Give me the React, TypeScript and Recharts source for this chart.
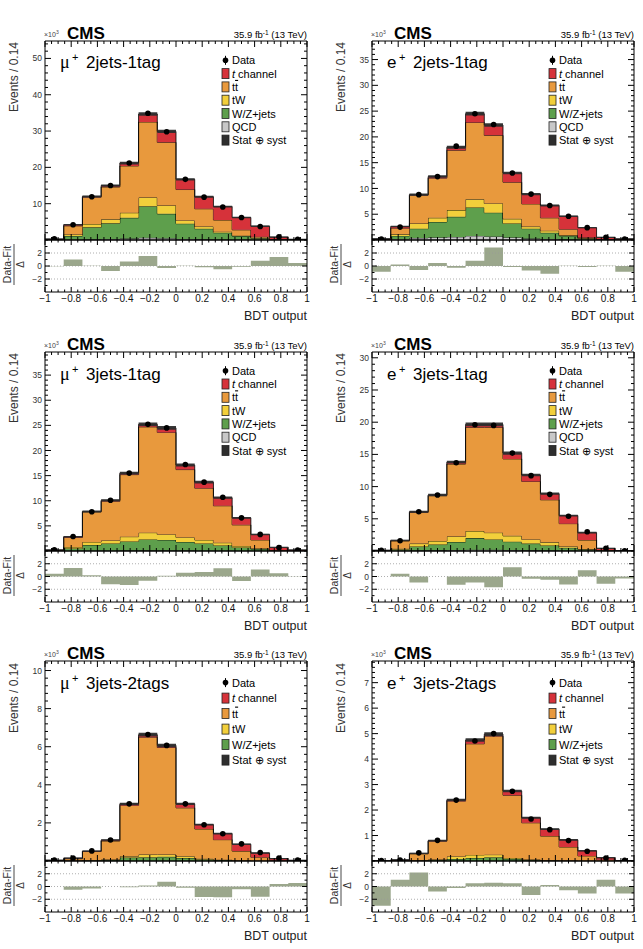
import React from 'react';
import { ComposedChart, Area, Scatter, XAxis, YAxis, ReferenceLine } from 'recharts';

const FONT = '"Liberation Sans", Arial, Helvetica, sans-serif';
const SERIF = '"Liberation Serif", "DejaVu Serif", serif';

// BDT output binning: 14 bins over [-1, 1]
const BIN_EDGES = Array.from({ length: 15 }, (_, i) => -1 + (i * 2) / 14);
const X_TICKS = [-1, -0.8, -0.6, -0.4, -0.2, 0, 0.2, 0.4, 0.6, 0.8, 1];
const X_MINOR = Array.from({ length: 41 }, (_, i) => Math.round((-1 + i * 0.05) * 100) / 100);
const PULL_TICKS = [-2, 0, 2];
const PULL_MINOR = [-3, -1, 1, 3];
const UNC_REL = 0.01;

const C_TCH = '#d6323a';
const C_TT = '#e8993d';
const C_TW = '#f2cf3b';
const C_WZ = '#5e9f4c';
const C_QCD = '#c8c8c8';
const C_UNC = '#2e2e2e';
const C_PULL = '#9ba78c';

// ---- mu+ 2jets-1tag (events x 10^3) ----
const MU_2J1T_DATA = [0.3, 4.2, 11.9, 15.0, 21.2, 34.9, 29.8, 16.7, 11.8, 9.1, 6.2, 3.7, 0.9, 0.2];
const MU_2J1T_QCD = [0.02, 0.1, 0.2, 0.3, 0.4, 0.6, 0.5, 0.3, 0.2, 0.1, 0.05, 0.02, 0.01, 0];
const MU_2J1T_WZ = [0.03, 1.0, 3.3, 4.3, 5.7, 8.7, 6.7, 4.2, 2.9, 1.9, 1.05, 0.48, 0.09, 0.03];
const MU_2J1T_TW = [0.02, 0.4, 0.9, 1.1, 1.4, 2.4, 2.3, 0.9, 0.6, 0.3, 0.1, 0.1, 0.02, 0.01];
const MU_2J1T_TT = [0.08, 2.4, 7.4, 8.9, 12.9, 20.8, 17.4, 8.5, 4.9, 3.2, 1.6, 0.3, 0.08, 0.02];
const MU_2J1T_TCH = [0.1, 0.3, 0.2, 0.4, 0.8, 2.2, 3.0, 2.8, 3.3, 3.7, 3.4, 2.9, 0.6, 0.09];
const MU_2J1T_PULL = [-0.05, 1.0, 0.05, -0.75, 0.7, 1.55, -0.3, 0.05, -0.2, -0.5, -0.1, 0.8, 1.4, 0.45];
const MU_2J1T_YTICKS = [10, 20, 30, 40, 50];

// ---- e+ 2jets-1tag ----
const E_2J1T_DATA = [0.2, 2.5, 8.8, 12.3, 18.2, 24.5, 22.4, 13.0, 8.9, 6.7, 4.6, 2.4, 0.5, 0.2];
const E_2J1T_QCD = [0.05, 0.2, 0.4, 0.5, 0.6, 0.8, 0.7, 0.5, 0.3, 0.2, 0.1, 0.05, 0.02, 0.01];
const E_2J1T_WZ = [0.05, 0.6, 1.8, 3.0, 3.9, 5.5, 4.6, 2.7, 1.9, 1.2, 0.7, 0.25, 0.06, 0.02];
const E_2J1T_TW = [0.02, 0.3, 1.0, 0.8, 1.3, 1.6, 1.8, 0.9, 0.4, 0.4, 0.1, 0.05, 0.02, 0.01];
const E_2J1T_TT = [0.03, 1.2, 5.5, 7.7, 11.6, 14.9, 13.2, 7.1, 4.4, 2.5, 1.2, 0.15, 0.05, 0.02];
const E_2J1T_TCH = [0.05, 0.3, 0.1, 0.3, 0.6, 1.7, 2.0, 1.8, 1.9, 2.4, 2.5, 1.9, 0.35, 0.14];
const E_2J1T_PULL = [-0.9, 0.25, -0.6, 0.45, -0.25, 0.8, 2.85, -0.15, -0.7, -1.2, 0.05, -0.15, 0.05, -0.9];
const E_2J1T_YTICKS = [5, 10, 15, 20, 25, 30, 35];

// ---- mu+ 3jets-1tag ----
const MU_3J1T_DATA = [0.25, 2.9, 7.8, 10.1, 15.5, 25.2, 24.5, 17.2, 13.7, 10.7, 6.6, 3.3, 0.7, 0.2];
const MU_3J1T_QCD = [0, 0.02, 0.05, 0.05, 0.08, 0.1, 0.1, 0.08, 0.05, 0.04, 0.02, 0.01, 0, 0];
const MU_3J1T_WZ = [0.05, 0.48, 1.15, 1.45, 1.82, 2.2, 2.1, 1.72, 1.45, 1.06, 0.68, 0.39, 0.1, 0.03];
const MU_3J1T_TW = [0.01, 0.3, 0.6, 0.6, 0.95, 1.35, 1.1, 0.9, 0.7, 0.55, 0.3, 0.1, 0.02, 0.01];
const MU_3J1T_TT = [0.09, 1.9, 6.0, 7.8, 12.35, 21.05, 20.3, 13.5, 10.3, 7.35, 4.2, 1.7, 0.08, 0.02];
const MU_3J1T_TCH = [0.05, 0.15, 0.05, 0.2, 0.3, 0.5, 0.9, 0.9, 1.2, 1.6, 1.4, 1.1, 0.5, 0.14];
const MU_3J1T_PULL = [0.45, 1.35, 0.2, -1.2, -1.35, -0.65, 0.1, 0.6, 0.7, 1.3, -0.7, 1.1, 0.5, -0.05];
const MU_3J1T_YTICKS = [5, 10, 15, 20, 25, 30, 35];

// ---- e+ 3jets-1tag ----
const E_3J1T_DATA = [0.1, 1.6, 6.1, 8.7, 13.7, 19.6, 19.5, 15.2, 11.7, 8.8, 5.4, 3.0, 0.4, 0.05];
const E_3J1T_QCD = [0.01, 0.03, 0.08, 0.1, 0.15, 0.2, 0.2, 0.15, 0.1, 0.08, 0.05, 0.02, 0, 0];
const E_3J1T_WZ = [0.02, 0.22, 0.62, 0.9, 1.25, 1.8, 1.6, 1.3, 1.05, 0.77, 0.45, 0.23, 0.05, 0.01];
const E_3J1T_TW = [0.01, 0.1, 0.45, 0.55, 0.85, 1.1, 1.05, 0.9, 0.65, 0.5, 0.2, 0.05, 0.01, 0.01];
const E_3J1T_TT = [0.04, 1.2, 4.85, 7.05, 11.25, 16.1, 16.35, 11.95, 9.0, 6.6, 3.55, 1.4, 0.09, 0.01];
const E_3J1T_TCH = [0.02, 0.1, 0.1, 0.1, 0.3, 0.45, 0.45, 0.9, 1.0, 0.95, 1.25, 1.15, 0.25, 0.02];
const E_3J1T_PULL = [0, 0.45, -0.95, 0, -1.3, -0.95, -1.7, 1.45, -0.35, -0.5, -1.25, 1.0, -1.15, -0.3];
const E_3J1T_YTICKS = [5, 10, 15, 20, 25, 30];

// ---- mu+ 3jets-2tags ----
const MU_3J2T_DATA = [0.05, 0.15, 0.53, 1.1, 3.0, 6.64, 6.07, 3.0, 1.9, 1.43, 0.9, 0.45, 0.15, 0.05];
const MU_3J2T_WZ = [0.01, 0.02, 0.03, 0.05, 0.18, 0.2, 0.22, 0.16, 0.08, 0.05, 0.02, 0.01, 0, 0];
const MU_3J2T_TW = [0, 0.01, 0.02, 0.03, 0.07, 0.14, 0.12, 0.09, 0.04, 0.02, 0.01, 0, 0.005, 0];
const MU_3J2T_TT = [0.02, 0.09, 0.45, 0.97, 2.67, 6.16, 5.62, 2.54, 1.56, 1.05, 0.49, 0.19, 0.035, 0.01];
const MU_3J2T_TCH = [0.01, 0.03, 0.02, 0.05, 0.08, 0.13, 0.11, 0.21, 0.23, 0.32, 0.36, 0.22, 0.09, 0.02];
const MU_3J2T_PULL = [0, -0.5, -0.3, 0, -0.1, 0.15, 0.75, -0.2, -1.65, -1.7, -0.45, -1.6, 0.4, 0.55];
const MU_3J2T_YTICKS = [2, 4, 6, 8, 10];

// ---- e+ 3jets-2tags ----
const E_3J2T_DATA = [0.02, 0.04, 0.32, 0.81, 2.39, 4.71, 5.0, 2.74, 1.65, 1.23, 0.8, 0.38, 0.12, 0.03];
const E_3J2T_WZ = [0, 0.005, 0.02, 0.04, 0.08, 0.12, 0.15, 0.08, 0.04, 0.02, 0.01, 0.005, 0, 0];
const E_3J2T_TW = [0, 0.005, 0.01, 0.02, 0.1, 0.12, 0.1, 0.04, 0.02, 0.01, 0.005, 0.002, 0, 0];
const E_3J2T_TT = [0.01, 0.02, 0.25, 0.72, 2.17, 4.36, 4.65, 2.46, 1.44, 0.95, 0.535, 0.193, 0.05, 0.01];
const E_3J2T_TCH = [0.01, 0.01, 0.02, 0.02, 0.05, 0.15, 0.08, 0.17, 0.2, 0.27, 0.28, 0.2, 0.08, 0.01];
const E_3J2T_PULL = [-3.0, 1.05, 2.2, -0.8, -0.25, 0.5, 0.6, 0.5, -1.35, 0.25, -0.6, -1.1, 1.05, -1.1];
const E_3J2T_YTICKS = [1, 2, 3, 4, 5, 6, 7];

type PanelCfg = {
  lepton: string;
  category: string;
  data: number[];
  qcd?: number[];
  wz: number[];
  tw: number[];
  tt: number[];
  tch: number[];
  pull: number[];
  yMax: number;
  yTicks: number[];
};

const PANELS: PanelCfg[] = [
  { lepton: 'μ', category: '2jets-1tag', data: MU_2J1T_DATA, qcd: MU_2J1T_QCD, wz: MU_2J1T_WZ, tw: MU_2J1T_TW, tt: MU_2J1T_TT, tch: MU_2J1T_TCH, pull: MU_2J1T_PULL, yMax: 54.8, yTicks: MU_2J1T_YTICKS },
  { lepton: 'e', category: '2jets-1tag', data: E_2J1T_DATA, qcd: E_2J1T_QCD, wz: E_2J1T_WZ, tw: E_2J1T_TW, tt: E_2J1T_TT, tch: E_2J1T_TCH, pull: E_2J1T_PULL, yMax: 38.6, yTicks: E_2J1T_YTICKS },
  { lepton: 'μ', category: '3jets-1tag', data: MU_3J1T_DATA, qcd: MU_3J1T_QCD, wz: MU_3J1T_WZ, tw: MU_3J1T_TW, tt: MU_3J1T_TT, tch: MU_3J1T_TCH, pull: MU_3J1T_PULL, yMax: 39.6, yTicks: MU_3J1T_YTICKS },
  { lepton: 'e', category: '3jets-1tag', data: E_3J1T_DATA, qcd: E_3J1T_QCD, wz: E_3J1T_WZ, tw: E_3J1T_TW, tt: E_3J1T_TT, tch: E_3J1T_TCH, pull: E_3J1T_PULL, yMax: 30.9, yTicks: E_3J1T_YTICKS },
  { lepton: 'μ', category: '3jets-2tags', data: MU_3J2T_DATA, wz: MU_3J2T_WZ, tw: MU_3J2T_TW, tt: MU_3J2T_TT, tch: MU_3J2T_TCH, pull: MU_3J2T_PULL, yMax: 10.5, yTicks: MU_3J2T_YTICKS },
  { lepton: 'e', category: '3jets-2tags', data: E_3J2T_DATA, wz: E_3J2T_WZ, tw: E_3J2T_TW, tt: E_3J2T_TT, tch: E_3J2T_TCH, pull: E_3J2T_PULL, yMax: 7.85, yTicks: E_3J2T_YTICKS },
];

// page layout of the 3x2 grid of frames
const COL_X = [45, 372];
const PLOT_W = 262;
type RowGeom = { top: number; mainH: number; ratioH: number; titleDy: number; legDy: number; legStep: number; eventsDy: number };
const ROWS: RowGeom[] = [
  { top: 41, mainH: 199, ratioH: 52, titleDy: 27.3, legDy: 19.3, legStep: 13.3, eventsDy: 1 },
  { top: 352, mainH: 199, ratioH: 51, titleDy: 28, legDy: 18.7, legStep: 13.3, eventsDy: 1 },
  { top: 661, mainH: 200, ratioH: 51, titleDy: 27.6, legDy: 21.6, legStep: 15.5, eventsDy: 2 },
];

// chart margins around each frame
const ML = 40;
const MR = 8;
const MT = 30;

const fmt = (v: number) => (v < 0 ? '\u2212' : '') + String(Math.abs(v));

const mergeTicks = (majors: number[], minors: number[]) =>
  Array.from(new Set([...majors, ...minors])).sort((a, b) => a - b);

const minorTicks = (yMax: number, ticks: number[]) => {
  const step = (ticks[1] - ticks[0]) / 5;
  const n = Math.floor(yMax / step + 1e-6);
  return Array.from({ length: n + 1 }, (_, i) => Math.round(i * step * 1000) / 1000);
};

// Inward-pointing ROOT-style ticks on both opposite edges of the frame,
// with optional labels on the major ticks.
function makeTick(orient: 'bottom' | 'left', majors: number[], majorLen: number, minorLen: number, span: number, fontSize?: number) {
  return (props: any) => {
    const { x, y, payload } = props;
    const v = payload.value as number;
    const major = majors.some((m) => Math.abs(m - v) < 1e-6);
    const len = major ? majorLen : minorLen;
    const s = { stroke: '#000', strokeWidth: 1 };
    if (orient === 'bottom') {
      return (
        <g>
          <line x1={x} y1={y} x2={x} y2={y - len} {...s} />
          <line x1={x} y1={y - span} x2={x} y2={y - span + len} {...s} />
          {fontSize && major ? (
            <text x={x} y={y + 2.5 + fontSize * 0.72} textAnchor="middle" fontSize={fontSize} fontFamily={FONT} fill="#111">
              {fmt(v)}
            </text>
          ) : null}
        </g>
      );
    }
    return (
      <g>
        <line x1={x} y1={y} x2={x + len} y2={y} {...s} />
        <line x1={x + span} y1={y} x2={x + span - len} y2={y} {...s} />
        {fontSize && major ? (
          <text x={x - 3} y={y + fontSize * 0.36} textAnchor="end" fontSize={fontSize} fontFamily={FONT} fill="#333">
            {fmt(v)}
          </text>
        ) : null}
      </g>
    );
  };
}

const DataMarker = (props: any) => {
  const { cx, cy } = props;
  if (cx == null || cy == null) return <g />;
  return <circle cx={cx} cy={cy} r={2.8} fill="#000" />;
};

const AXIS_LINE = { stroke: '#000', strokeWidth: 1 };
const X_ALL = mergeTicks(X_TICKS, X_MINOR);
const AXIS_COMMON = { interval: 0 as const, tickSize: 0, tickMargin: 0, tickLine: false, axisLine: AXIS_LINE, allowDataOverflow: true, type: 'number' as const };

function MainPlot({ cfg, left, row }: { cfg: PanelCfg; left: number; row: RowGeom }) {
  const rows = BIN_EDGES.map((x, i) => {
    const b = Math.min(i, 13);
    const total = (cfg.qcd ? cfg.qcd[b] : 0) + cfg.wz[b] + cfg.tw[b] + cfg.tt[b] + cfg.tch[b];
    const half = total * UNC_REL + cfg.yMax * 0.003;
    return {
      x,
      qcd: cfg.qcd ? cfg.qcd[b] : 0,
      wz: cfg.wz[b],
      tw: cfg.tw[b],
      tt: cfg.tt[b],
      tch: cfg.tch[b],
      band: [Math.max(0, total - half), total + half],
    };
  });
  const points = cfg.data.map((y, i) => ({ x: (BIN_EDGES[i] + BIN_EDGES[i + 1]) / 2, y }));
  const yAll = mergeTicks(cfg.yTicks, minorTicks(cfg.yMax, cfg.yTicks));
  const domY: [number, number] = [0, cfg.yMax];
  const w = PLOT_W + ML + MR;
  const h = row.mainH + MT + 2;
  const frame = { stroke: '#000', strokeWidth: 1 };
  return (
    <div style={{ position: 'absolute', left: left - ML, top: row.top - MT, width: w, height: h }}>
      <ComposedChart width={w} height={h} data={rows} margin={{ top: MT, right: MR, bottom: 1, left: ML - 1 }}>
        <XAxis xAxisId="b" dataKey="x" domain={[-1, 1]} ticks={X_ALL} height={1} tick={makeTick('bottom', X_TICKS, 6, 3, row.mainH)} {...AXIS_COMMON} />
        <YAxis yAxisId="l" domain={domY} ticks={yAll} width={1} tick={makeTick('left', cfg.yTicks, 6, 3, PLOT_W, 8.5)} {...AXIS_COMMON} />
        {cfg.qcd && (
          <Area xAxisId="b" yAxisId="l" dataKey="qcd" stackId="s" type="stepAfter" fill={C_QCD} fillOpacity={1} stroke="#000" strokeWidth={0.8} isAnimationActive={false} dot={false} activeDot={false} />
        )}
        <Area xAxisId="b" yAxisId="l" dataKey="wz" stackId="s" type="stepAfter" fill={C_WZ} fillOpacity={1} stroke="#000" strokeWidth={0.8} isAnimationActive={false} dot={false} activeDot={false} />
        <Area xAxisId="b" yAxisId="l" dataKey="tw" stackId="s" type="stepAfter" fill={C_TW} fillOpacity={1} stroke="#000" strokeWidth={0.8} isAnimationActive={false} dot={false} activeDot={false} />
        <Area xAxisId="b" yAxisId="l" dataKey="tt" stackId="s" type="stepAfter" fill={C_TT} fillOpacity={1} stroke="#000" strokeWidth={0.8} isAnimationActive={false} dot={false} activeDot={false} />
        <Area xAxisId="b" yAxisId="l" dataKey="tch" stackId="s" type="stepAfter" fill={C_TCH} fillOpacity={1} stroke="#000" strokeWidth={0.8} isAnimationActive={false} dot={false} activeDot={false} />
        <Area xAxisId="b" yAxisId="l" dataKey="band" type="stepAfter" fill={C_UNC} fillOpacity={0.95} stroke="none" isAnimationActive={false} dot={false} activeDot={false} />
        <Scatter xAxisId="b" yAxisId="l" data={points} dataKey="y" shape={DataMarker} isAnimationActive={false} />
        <ReferenceLine xAxisId="b" yAxisId="l" y={cfg.yMax} {...frame} />
        <ReferenceLine xAxisId="b" yAxisId="l" x={1} {...frame} />
      </ComposedChart>
    </div>
  );
}

function RatioPlot({ cfg, left, row }: { cfg: PanelCfg; left: number; row: RowGeom }) {
  const rows = BIN_EDGES.map((x, i) => ({ x, pull: cfg.pull[Math.min(i, 13)] }));
  const top = row.top + row.mainH;
  const w = PLOT_W + ML + MR;
  const MB = 20;
  const h = row.ratioH + 2 + MB;
  const dom: [number, number] = [-4, 4];
  const yAll = mergeTicks(PULL_TICKS, PULL_MINOR);
  const dotted = { stroke: '#9a9a9a', strokeWidth: 0.8, strokeDasharray: '1 2' };
  const frame = { stroke: '#000', strokeWidth: 1 };
  return (
    <div style={{ position: 'absolute', left: left - ML, top: top - 2, width: w, height: h }}>
      <ComposedChart width={w} height={h} data={rows} margin={{ top: 2, right: MR, bottom: MB - 1, left: ML - 1 }}>
        <XAxis xAxisId="b" dataKey="x" domain={[-1, 1]} ticks={X_ALL} height={1} tick={makeTick('bottom', X_TICKS, 5, 2.5, row.ratioH, 10)} {...AXIS_COMMON} />
        <YAxis yAxisId="l" domain={dom} ticks={yAll} width={1} tick={makeTick('left', PULL_TICKS, 5, 2.5, PLOT_W, 8.5)} {...AXIS_COMMON} />
        {PULL_TICKS.map((v) => (
          <ReferenceLine key={v} xAxisId="b" yAxisId="l" y={v} {...dotted} />
        ))}
        <Area xAxisId="b" yAxisId="l" dataKey="pull" type="stepAfter" baseValue={0} fill={C_PULL} fillOpacity={1} stroke="none" isAnimationActive={false} dot={false} activeDot={false} />
        <ReferenceLine xAxisId="b" yAxisId="l" y={4} {...frame} />
        <ReferenceLine xAxisId="b" yAxisId="l" x={1} {...frame} />
      </ComposedChart>
    </div>
  );
}

const LEGEND = [
  { key: 'data', color: '', label: 'Data' },
  { key: 'tch', color: C_TCH, label: 'tch' },
  { key: 'tt', color: C_TT, label: 'tt' },
  { key: 'tw', color: C_TW, label: 'tW' },
  { key: 'wz', color: C_WZ, label: 'W/Z+jets' },
  { key: 'qcd', color: C_QCD, label: 'QCD' },
  { key: 'unc', color: C_UNC, label: 'Stat \u2295 syst' },
];

function LegendLabel({ k, label }: { k: string; label: string }) {
  if (k === 'tch')
    return (
      <>
        <tspan fontStyle="italic">t</tspan>
        <tspan> channel</tspan>
      </>
    );
  if (k === 'tt')
    return (
      <>
        <tspan>t</tspan>
        <tspan textDecoration="overline">t</tspan>
      </>
    );
  return <>{label}</>;
}

function Annotations({ cfg, left, row }: { cfg: PanelCfg; left: number; row: RowGeom }) {
  const right = left + PLOT_W;
  const top = row.top;
  const ratioTop = top + row.mainH;
  const ratioBottom = ratioTop + row.ratioH;
  const items = LEGEND.filter((it) => it.key !== 'qcd' || cfg.qcd);
  const mx = right - 85;
  return (
    <g fontFamily={FONT}>
      <text x={left - 1} y={top - 4} fontSize={7} fill="#444">
        ×10<tspan fontSize={5} dy={-3}>3</tspan>
      </text>
      <text x={left + 22} y={top - 1.7} fontSize={17} fontWeight="bold" fill="#000">CMS</text>
      <text x={right} y={top - 2.7} fontSize={9.5} textAnchor="end" fill="#000">
        35.9 fb<tspan fontSize={6.5} dy={-3.5}>-1</tspan><tspan dy={3.5}> (13 TeV)</tspan>
      </text>
      {cfg.lepton === 'μ' ? (
        <text x={left + 15} y={top + row.titleDy} fontSize={18} fontFamily={SERIF} fill="#000">μ</text>
      ) : (
        <text x={left + 15} y={top + row.titleDy} fontSize={17} fill="#000">e</text>
      )}
      <text x={left + 27} y={top + row.titleDy - 7} fontSize={11} fill="#000">+</text>
      <text x={left + 41} y={top + row.titleDy} fontSize={17} fill="#000">{cfg.category}</text>
      {items.map((it, i) => {
        const cy = top + row.legDy + i * row.legStep;
        return (
          <g key={it.key}>
            {it.key === 'data' ? (
              <g>
                <line x1={mx + 3.5} x2={mx + 3.5} y1={cy - 4.5} y2={cy + 4.5} stroke="#000" strokeWidth={1} />
                <circle cx={mx + 3.5} cy={cy} r={2.8} fill="#000" />
              </g>
            ) : (
              <rect x={mx} y={cy - 5} width={7} height={10} fill={it.color} stroke="#222" strokeWidth={0.8} />
            )}
            <text x={right - 75} y={cy + 4} fontSize={11} fill="#000">
              <LegendLabel k={it.key} label={it.label} />
            </text>
          </g>
        );
      })}
      <text transform={`translate(${left - 27.5},${top + row.eventsDy}) rotate(-90)`} textAnchor="end" fontSize={12} fill="#333">
        Events / 0.14
      </text>
      <text transform={`translate(${left - 34.5},${ratioTop + 24.5}) rotate(-90)`} textAnchor="middle" fontSize={10.5} fill="#333">
        Data-Fit
      </text>
      <line x1={left - 31} x2={left - 31} y1={ratioTop + 4} y2={ratioTop + 45} stroke="#333" strokeWidth={0.9} />
      <text transform={`translate(${left - 21.5},${ratioTop + 24.5}) rotate(-90)`} textAnchor="middle" fontSize={10} fill="#333">
        Δ
      </text>
      <text x={right} y={ratioBottom + 27.5} fontSize={12.5} textAnchor="end" fill="#222">
        BDT output
      </text>
    </g>
  );
}

export default function App() {
  return (
    <div style={{ position: 'absolute', left: 0, top: 0, width: 643, height: 949, background: '#fff', fontFamily: FONT }}>
      {PANELS.map((cfg, i) => {
        const row = ROWS[Math.floor(i / 2)];
        const left = COL_X[i % 2];
        return (
          <React.Fragment key={i}>
            <MainPlot cfg={cfg} left={left} row={row} />
            <RatioPlot cfg={cfg} left={left} row={row} />
          </React.Fragment>
        );
      })}
      <svg width={643} height={949} style={{ position: 'absolute', left: 0, top: 0, pointerEvents: 'none' }}>
        {PANELS.map((cfg, i) => (
          <Annotations key={i} cfg={cfg} left={COL_X[i % 2]} row={ROWS[Math.floor(i / 2)]} />
        ))}
      </svg>
    </div>
  );
}
